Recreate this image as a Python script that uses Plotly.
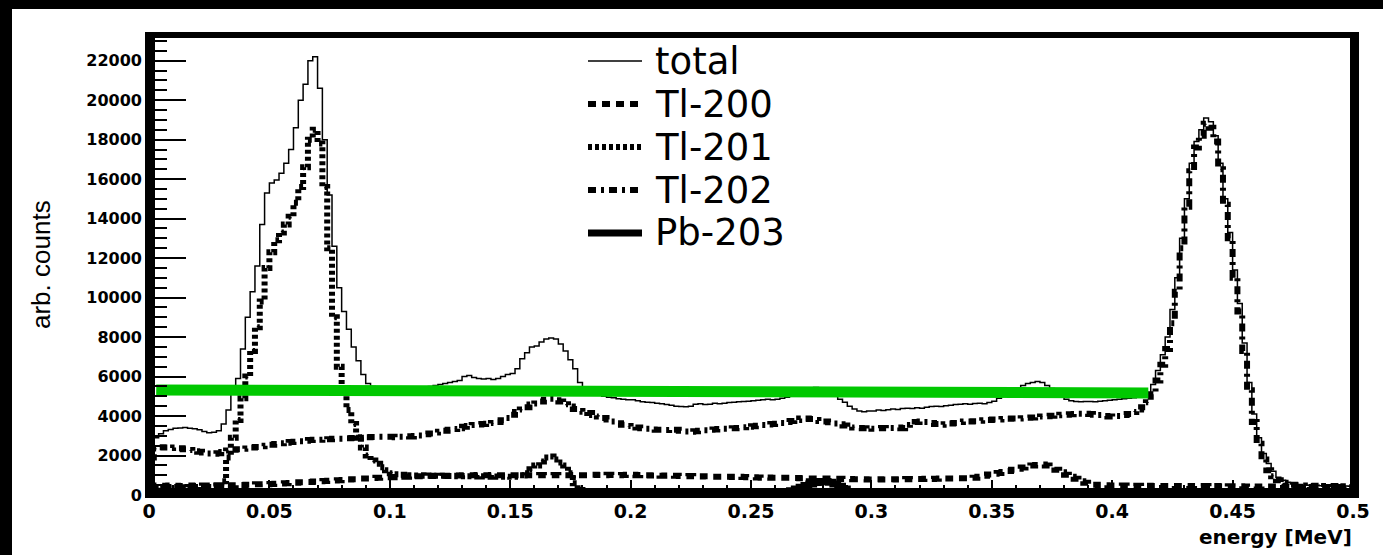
import plotly.graph_objects as go

# ---------------- data ----------------
BIN_WIDTH = 0.002          # MeV, 250 bins from 0 to 0.5
X_RANGE = [0.0, 0.5]
Y_RANGE = [0, 23300]

total = [
    2500, 2900, 3100, 3250, 3320, 3380, 3400, 3420, 3380, 3350,
    3300, 3220, 3150, 3180, 3250, 3600, 4300, 5100, 5900, 7400,
    9000, 10300, 11600, 13700, 15300, 15800, 15950, 16300, 16800, 17500,
    18600, 20000, 20800, 22000, 22200, 20600, 18000, 15200, 12600, 10500,
    9300, 8400, 7500, 6800, 6100, 5650, 5500, 5450, 5400, 5380,
    5400, 5350, 5380, 5330, 5350, 5400, 5380, 5450, 5500, 5550,
    5600, 5650, 5700, 5750, 5800, 6000, 6050, 5950, 5900, 5880,
    5900, 5850, 5900, 6000, 6100, 6150, 6400, 6900, 7200, 7500,
    7550, 7750, 7900, 7950, 7900, 7650, 7300, 6850, 6400, 5700,
    5350, 5200, 5140, 5080, 5000, 4950, 4920, 4880, 4850, 4830,
    4820, 4780, 4720, 4700, 4680, 4650, 4620, 4580, 4540, 4500,
    4480, 4470, 4500, 4600, 4620, 4580, 4600, 4650, 4620, 4650,
    4680, 4700, 4720, 4730, 4750, 4780, 4800, 4820, 4850, 4830,
    4850, 4900, 4950, 5000, 5100, 5200, 5300, 5400, 5450, 5400,
    5300, 5150, 5000, 4850, 4700, 4500, 4350, 4250, 4220, 4250,
    4250, 4300, 4280, 4320, 4350, 4330, 4380, 4400, 4380, 4420,
    4400, 4450, 4480, 4500, 4480, 4520, 4550, 4580, 4600, 4620,
    4600, 4630, 4650, 4620, 4680, 4750, 4900, 5050, 5200, 5350,
    5400, 5550, 5650, 5700, 5750, 5700, 5550, 5400, 5150, 4950,
    4850, 4780, 4730, 4720, 4730, 4740, 4720, 4750, 4780, 4800,
    4820, 4850, 4870, 4900, 4920, 4950, 5000, 5150, 5600, 6300,
    7100, 8000, 9400, 11000, 13000, 15000, 16800, 17900, 18500, 19100,
    18900, 18200, 16800, 15000, 13300, 11400, 9700, 7700, 5700, 4100,
    2900, 2100, 1600, 1200, 900, 750, 650, 560, 520, 500,
    500, 480, 490, 470, 480, 460, 470, 450, 460, 440,
]

tl200 = [
    450, 480, 470, 460, 480, 470, 450, 470, 480, 460,
    470, 480, 460, 470, 490, 480, 500, 490, 500, 510,
    520, 530, 540, 550, 550, 560, 570, 580, 600, 610,
    620, 640, 650, 660, 680, 700, 710, 720, 740, 750,
    760, 780, 800, 810, 830, 840, 860, 870, 880, 900,
    900, 910, 920, 930, 940, 950, 950, 960, 960, 970,
    970, 980, 980, 990, 990, 1000, 1000, 1000, 1010, 1000,
    1000, 1010, 1000, 1000, 1010, 1000, 1000, 990, 1000, 1000,
    1000, 1010, 1000, 1000, 1010, 1000, 1000, 1000, 1010, 1000,
    1000, 1010, 1020, 1010, 1000, 1020, 1010, 1000, 1010, 1020,
    1020, 1000, 1010, 1000, 990, 1000, 980, 990, 980, 970,
    960, 950, 960, 950, 940, 950, 940, 930, 930, 920,
    920, 910, 920, 910, 900, 900, 890, 880, 890, 880,
    880, 870, 870, 860, 860, 850, 850, 840, 840, 830,
    830, 830, 820, 820, 810, 810, 800, 800, 800, 790,
    790, 800, 790, 800, 800, 790, 800, 810, 800, 810,
    810, 820, 810, 820, 830, 830, 840, 840, 850, 850,
    860, 880, 920, 980, 1040, 1080, 1120, 1170, 1220, 1280,
    1330, 1390, 1450, 1490, 1520, 1540, 1500, 1400, 1280, 1150,
    1020, 920, 820, 700, 620, 560, 520, 500, 490, 480,
    480, 470, 480, 470, 460, 470, 460, 470, 460, 450,
    460, 450, 460, 450, 450, 460, 440, 450, 440, 450,
    440, 450, 440, 430, 440, 430, 440, 430, 420, 430,
    420, 430, 420, 430, 420, 410, 420, 410, 420, 410,
    410, 400, 410, 400, 410, 400, 400, 390, 400, 390,
]

tl201 = [
    300, 350, 380, 400, 380, 400, 390, 380, 400, 390,
    400, 380, 400, 420, 450, 700, 1900, 2900, 3800, 4900,
    6000, 7300, 8500, 9800, 11500, 12300, 12900, 13300, 13700, 14100,
    14800, 15600, 16600, 18000, 18500, 17800, 15600, 12500, 9000, 6500,
    5200, 4300, 3600, 2900, 2400, 2000, 1750, 1580, 1400, 1250,
    1100, 1050, 1020, 1000, 1000, 990, 1000, 980, 990, 980,
    970, 980, 960, 970, 950, 960, 950, 940, 950, 940,
    930, 940, 930, 920, 930, 920, 950, 1000, 1100, 1300,
    1500, 1700, 1900, 1950, 1800, 1650, 1500, 1100, 600, 250,
    120, 80, 60, 50, 50, 40, 40, 30, 30, 30,
    30, 20, 30, 20, 30, 20, 30, 20, 30, 20,
    30, 20, 30, 20, 30, 20, 30, 20, 30, 20,
    30, 20, 30, 20, 30, 20, 30, 20, 30, 20,
    30, 20, 30, 20, 30, 20, 30, 20, 30, 20,
    30, 20, 30, 20, 30, 20, 30, 20, 30, 20,
    30, 20, 30, 20, 30, 20, 30, 20, 30, 20,
    30, 20, 30, 20, 30, 20, 30, 20, 30, 20,
    30, 20, 30, 20, 30, 20, 30, 20, 30, 20,
    30, 20, 30, 20, 30, 20, 30, 20, 30, 20,
    30, 20, 30, 20, 30, 20, 30, 20, 30, 20,
    30, 20, 30, 20, 30, 20, 30, 20, 30, 20,
    30, 20, 30, 20, 30, 20, 30, 20, 30, 20,
    30, 20, 30, 20, 30, 20, 30, 20, 30, 20,
    30, 20, 30, 20, 30, 20, 30, 20, 30, 20,
    30, 20, 30, 20, 30, 20, 30, 20, 30, 20,
]

tl202 = [
    1900, 2350, 2420, 2400, 2380, 2400, 2370, 2320, 2280, 2220,
    2190, 2150, 2100, 2090, 2120, 2180, 2250, 2290, 2320, 2340,
    2350, 2400, 2430, 2470, 2500, 2540, 2580, 2620, 2650, 2680,
    2700, 2720, 2750, 2780, 2800, 2800, 2820, 2830, 2850, 2850,
    2850, 2870, 2890, 2900, 2920, 2930, 2940, 2950, 2950, 2950,
    2950, 2930, 2950, 2970, 2960, 2990, 3020, 3080, 3120, 3160,
    3200, 3250, 3300, 3340, 3380, 3460, 3500, 3540, 3570, 3600,
    3610, 3650, 3700, 3780, 3900, 4070, 4200, 4330, 4450, 4580,
    4630, 4730, 4830, 4870, 4800, 4730, 4600, 4480, 4350, 4250,
    4220, 4150, 4050, 3980, 3900, 3820, 3720, 3640, 3560, 3500,
    3460, 3420, 3380, 3350, 3320, 3300, 3300, 3290, 3300, 3300,
    3250, 3220, 3200, 3230, 3260, 3280, 3300, 3320, 3340, 3360,
    3360, 3380, 3400, 3430, 3460, 3480, 3510, 3540, 3570, 3600,
    3610, 3650, 3700, 3750, 3800, 3870, 3880, 3850, 3800, 3750,
    3720, 3680, 3620, 3580, 3520, 3460, 3420, 3400, 3380, 3370,
    3360, 3380, 3400, 3380, 3400, 3420, 3380, 3400, 3550, 3700,
    3720, 3700, 3650, 3600, 3560, 3580, 3620, 3650, 3700, 3720,
    3720, 3740, 3760, 3780, 3800, 3820, 3830, 3850, 3860, 3870,
    3870, 3890, 3910, 3930, 3950, 3970, 3990, 4010, 4040, 4070,
    4070, 4090, 4100, 4110, 4120, 4100, 4070, 4050, 4000, 3980,
    3970, 4000, 4050, 4100, 4200, 4330, 4450, 4700, 5100, 5800,
    6600, 7400, 8700, 10300, 12500, 14600, 16400, 17600, 18200, 18800,
    18600, 17900, 16500, 14700, 13000, 11000, 9300, 7300, 5300, 3700,
    2600, 1800, 1250, 950, 750, 620, 560, 520, 500, 480,
    470, 460, 470, 450, 460, 440, 450, 430, 440, 420,
]

pb203 = [
    0, 0, 0, 0, 0, 0, 0, 0, 0, 0,
    0, 0, 0, 0, 0, 0, 0, 0, 0, 0,
    0, 0, 0, 0, 0, 0, 0, 0, 0, 0,
    0, 0, 0, 0, 0, 0, 0, 0, 0, 0,
    0, 0, 0, 0, 0, 0, 0, 0, 0, 0,
    0, 0, 0, 0, 0, 0, 0, 0, 0, 0,
    0, 0, 0, 0, 0, 0, 0, 0, 0, 0,
    0, 0, 0, 0, 0, 0, 0, 0, 0, 0,
    0, 0, 0, 0, 0, 0, 0, 0, 0, 0,
    0, 0, 0, 0, 0, 0, 0, 0, 0, 0,
    0, 0, 0, 0, 0, 0, 0, 0, 0, 0,
    0, 0, 0, 0, 0, 0, 0, 0, 0, 0,
    0, 0, 0, 0, 0, 0, 0, 0, 0, 0,
    0, 60, 130, 210, 300, 390, 480, 560, 630, 680,
    690, 650, 560, 440, 300, 170, 70, 20, 0, 0,
    0, 0, 0, 0, 0, 0, 0, 0, 0, 0,
    0, 0, 0, 0, 0, 0, 0, 0, 0, 0,
    0, 0, 0, 0, 0, 0, 0, 0, 0, 0,
    0, 0, 0, 0, 0, 0, 0, 0, 0, 0,
    0, 0, 0, 0, 0, 0, 0, 0, 0, 0,
    0, 0, 0, 0, 0, 0, 0, 0, 0, 0,
    0, 0, 0, 0, 0, 0, 0, 0, 0, 0,
    0, 0, 0, 0, 0, 0, 0, 0, 0, 0,
    0, 0, 0, 0, 0, 0, 0, 0, 0, 0,
    0, 0, 0, 0, 0, 0, 0, 0, 0, 0,
]

# green reference line
green_x = [0.003, 0.415]
green_y = [5320, 5170]

x_tick_vals = [0, 0.05, 0.1, 0.15, 0.2, 0.25, 0.3, 0.35, 0.4, 0.45, 0.5]
x_tick_text = ["0", "0.05", "0.1", "0.15", "0.2", "0.25", "0.3", "0.35", "0.4", "0.45", "0.5"]
y_tick_vals = [0, 2000, 4000, 6000, 8000, 10000, 12000, 14000, 16000, 18000, 20000, 22000]
y_tick_text = ["0", "2000", "4000", "6000", "8000", "10000", "12000", "14000",
               "16000", "18000", "20000", "22000"]

series_names = ["total", "Tl-200", "Tl-201", "Tl-202", "Pb-203"]
x_title = "energy [MeV]"
y_title = "arb. counts"

# ---------------- styles / geometry ----------------
W, H = 1383, 555
L, R, T, B = 149, 30, 35, 60
PW, PH = W - L - R, H - T - B


def px(xp):
    return (xp - L) / PW


def py(yp):
    return (H - B - yp) / PH


styles = {
    "total": dict(width=1.5, dash="solid"),
    "Tl-200": dict(width=6, dash="8px,6px"),
    "Tl-201": dict(width=6, dash="4px,3px"),
    "Tl-202": dict(width=6, dash="8px,5px,3px,5px"),
    "Pb-203": dict(width=7, dash="solid"),
}
series = {"total": total, "Tl-200": tl200, "Tl-201": tl201, "Tl-202": tl202, "Pb-203": pb203}

nb = len(total)
edges = [round(i * BIN_WIDTH, 6) for i in range(nb + 1)]

fig = go.Figure()
for name in series_names:
    vals = series[name]
    fig.add_trace(go.Scatter(
        x=edges, y=list(vals) + [vals[-1]], mode="lines", name=name,
        line=dict(color="black", shape="hv", **styles[name]),
        showlegend=False, hoverinfo="skip",
    ))

fig.add_trace(go.Scatter(
    x=green_x, y=green_y, mode="lines", name="reference",
    line=dict(color="#00c800", width=11), showlegend=False, hoverinfo="skip",
))

shapes = []
# outer black bands of the picture
shapes.append(dict(type="rect", xref="paper", yref="paper", x0=px(0), x1=px(W), y0=py(9), y1=py(0),
                   fillcolor="black", line=dict(width=0), layer="above"))
shapes.append(dict(type="rect", xref="paper", yref="paper", x0=px(0), x1=px(12), y0=py(H), y1=py(0),
                   fillcolor="black", line=dict(width=0), layer="above"))
# thick frame
for (a, b, c, d) in [(145, 1359, 32, 38), (145, 155, 32, 498), (1350, 1359, 32, 498), (145, 1359, 488, 498)]:
    shapes.append(dict(type="rect", xref="paper", yref="paper", x0=px(a), x1=px(b), y0=py(d), y1=py(c),
                       fillcolor="black", line=dict(width=0), layer="above"))

annotations = []
# legend drawn by hand
leg_y0, leg_dy = 61, 43
for k, name in enumerate(series_names):
    yy = leg_y0 + k * leg_dy
    st = styles[name]
    shapes.append(dict(type="line", xref="paper", yref="paper", x0=px(588), x1=px(642), y0=py(yy), y1=py(yy),
                       line=dict(color="black", width=st["width"] if name != "total" else 1.5, dash=st["dash"]),
                       layer="above"))
    annotations.append(dict(text=name, xref="paper", yref="paper", x=px(653), y=py(yy),
                            xanchor="left", yanchor="middle", showarrow=False,
                            font=dict(family="DejaVu Sans", size=37, color="black")))

annotations.append(dict(text=x_title, xref="paper", yref="paper", x=px(1354), y=py(537),
                        xanchor="right", yanchor="middle", showarrow=False,
                        font=dict(family="DejaVu Sans", size=20, color="black", weight="bold")))
annotations.append(dict(text=y_title, xref="paper", yref="paper", x=px(41), y=py(265),
                        xanchor="center", yanchor="middle", showarrow=False, textangle=-90,
                        font=dict(family="Liberation Sans", size=26, color="black")))

fig.update_layout(
    width=W, height=H,
    margin=dict(l=L, r=R, t=T, b=B, pad=0),
    paper_bgcolor="white", plot_bgcolor="white",
    shapes=shapes, annotations=annotations,
    xaxis=dict(range=X_RANGE, showgrid=False, zeroline=False, showline=False,
               tickvals=x_tick_vals, ticktext=x_tick_text,
               ticks="inside", ticklen=15, tickwidth=2, tickcolor="black",
               minor=dict(dtick=0.01, ticks="inside", ticklen=10, tickwidth=2, tickcolor="black"),
               ticklabelstandoff=3,
               tickfont=dict(family="DejaVu Sans", size=19, color="black", weight="bold")),
    yaxis=dict(range=Y_RANGE, showgrid=False, zeroline=False, showline=False,
               tickvals=y_tick_vals, ticktext=y_tick_text,
               ticks="inside", ticklen=37, tickwidth=2, tickcolor="black",
               minor=dict(dtick=500, ticks="inside", ticklen=18, tickwidth=2, tickcolor="black"),
               ticklabelstandoff=6,
               tickfont=dict(family="DejaVu Sans", size=16, color="black", weight="bold")),
)

fig.write_html("out.html", config={"displayModeBar": False},
               post_script="document.body.style.margin='0';")
